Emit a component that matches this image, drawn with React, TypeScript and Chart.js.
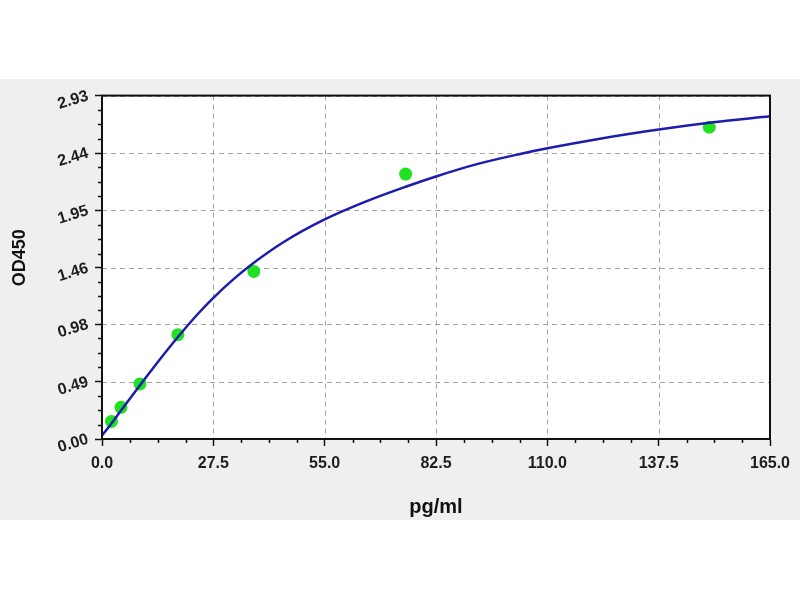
import React, { useEffect, useRef } from "react";
import { Chart, registerables } from "chart.js";

Chart.register(...registerables);

const X_TICKS = [0, 27.5, 55, 82.5, 110, 137.5, 165];
const Y_TICKS = [0, 0.49, 0.98, 1.46, 1.95, 2.44, 2.93];

const STD_CONC = [2.34, 4.69, 9.38, 18.75, 37.5, 75, 150];
const STD_OD = [0.15, 0.27, 0.47, 0.89, 1.43, 2.26, 2.66];

const CURVE_CONC = [0, 2.34, 4.69, 9.38, 13.7, 18.75, 23.5, 27.5, 32.5, 37.5, 44.8, 55, 65.4, 75, 82.5, 92.6, 103, 110, 123, 137.5, 151, 165];
const CURVE_OD = [0.03, 0.133, 0.243, 0.459, 0.653, 0.87, 1.06, 1.204, 1.364, 1.504, 1.679, 1.873, 2.029, 2.152, 2.24, 2.345, 2.43, 2.48, 2.562, 2.64, 2.702, 2.754];

const X_TITLE = "pg/ml";
const Y_TITLE = "OD450";

const FONT = '"Liberation Sans", Arial, sans-serif';

const framePlugin = {
  id: "frame",
  beforeDraw(chart: any) {
    const { ctx, chartArea: a } = chart;
    ctx.save();
    ctx.fillStyle = "#ffffff";
    ctx.fillRect(a.left, a.top, a.right - a.left, a.bottom - a.top);
    ctx.restore();
  },
  beforeDatasetsDraw(chart: any) {
    const { ctx, chartArea: a, scales } = chart;
    ctx.save();
    ctx.strokeStyle = "#a4a4a4";
    ctx.lineWidth = 1;
    ctx.setLineDash([5, 4]);
    ctx.beginPath();
    X_TICKS.forEach((v) => {
      const px = Math.round(scales.x.getPixelForValue(v)) + 0.5;
      ctx.moveTo(px, a.top);
      ctx.lineTo(px, a.bottom);
    });
    Y_TICKS.forEach((v) => {
      const py = Math.round(scales.y.getPixelForValue(v)) + 0.5;
      ctx.moveTo(a.left, py);
      ctx.lineTo(a.right, py);
    });
    ctx.stroke();
    ctx.restore();
  },
  afterDraw(chart: any) {
    const { ctx, chartArea: a, scales } = chart;
    ctx.save();
    ctx.strokeStyle = "#111111";
    ctx.lineWidth = 1.5;
    ctx.beginPath();
    for (let i = 0; i < X_TICKS.length - 1; i++) {
      const step = (X_TICKS[i + 1] - X_TICKS[i]) / 4;
      for (let k = 1; k < 4; k++) {
        const px = Math.round(scales.x.getPixelForValue(X_TICKS[i] + k * step)) + 0.5;
        ctx.moveTo(px, a.bottom);
        ctx.lineTo(px, a.bottom + 4);
      }
    }
    for (let i = 0; i < Y_TICKS.length - 1; i++) {
      const step = (Y_TICKS[i + 1] - Y_TICKS[i]) / 4;
      for (let k = 1; k < 4; k++) {
        const py = Math.round(scales.y.getPixelForValue(Y_TICKS[i] + k * step)) + 0.5;
        ctx.moveTo(a.left - 4, py);
        ctx.lineTo(a.left, py);
      }
    }
    ctx.stroke();
    ctx.lineWidth = 2;
    ctx.strokeRect(a.left, a.top, a.right - a.left, a.bottom - a.top);
    ctx.translate(20, (a.top + a.bottom) / 2 - 9.5);
    ctx.rotate(-Math.PI / 2);
    ctx.font = `bold 18px ${FONT}`;
    ctx.textAlign = "center";
    ctx.textBaseline = "middle";
    ctx.fillStyle = "#111111";
    ctx.fillText(Y_TITLE, 0, 0);
    ctx.restore();
  },
};

export default function App() {
  const ref = useRef<HTMLCanvasElement | null>(null);

  useEffect(() => {
    if (!ref.current) return;
    const curve = CURVE_CONC.map((x, i) => ({ x, y: CURVE_OD[i] }));
    const pts = STD_CONC.map((x, i) => ({ x, y: STD_OD[i] }));
    const chart = new Chart(ref.current, {
      type: "scatter",
      data: {
        datasets: [
          {
            data: curve,
            showLine: true,
            borderColor: "#1c1cae",
            borderWidth: 2.5,
            pointRadius: 0,
            cubicInterpolationMode: "monotone",
            fill: false,
          } as any,
          {
            data: pts,
            pointRadius: 6.5,
            pointBackgroundColor: "#22e022",
            pointBorderWidth: 0,
            pointBorderColor: "#22e022",
            showLine: false,
          } as any,
        ],
      },
      options: {
        animation: false,
        responsive: false,
        maintainAspectRatio: false,
        devicePixelRatio: 1,
        layout: { padding: { top: 13, right: 30, left: 0, bottom: 0 } },
        plugins: { legend: { display: false }, tooltip: { enabled: false } },
        scales: {
          x: {
            type: "linear",
            min: 0,
            max: 165,
            afterBuildTicks: (s: any) => {
              s.ticks = X_TICKS.map((v) => ({ value: v }));
            },
            afterFit: (s: any) => {
              s.height = 81;
            },
            ticks: {
              autoSkip: false,
              maxRotation: 0,
              minRotation: 0,
              padding: 8,
              color: "#1e1e1e",
              font: { family: FONT, size: 16, weight: "bold" },
              callback: (v: any) => Number(v).toFixed(1),
            },
            grid: {
              drawOnChartArea: false,
              drawTicks: true,
              tickLength: 7,
              tickColor: "#111111",
              tickWidth: 1.5,
            },
            border: { display: true, color: "#111111", width: 2 },
            title: {
              display: true,
              text: X_TITLE,
              color: "#111111",
              font: { family: FONT, size: 20, weight: "bold" },
              padding: { top: 0, bottom: 1 },
            },
          },
          y: {
            type: "linear",
            min: 0,
            max: 2.93,
            afterBuildTicks: (s: any) => {
              s.ticks = Y_TICKS.map((v) => ({ value: v }));
            },
            afterFit: (s: any) => {
              s.width = 102;
            },
            ticks: {
              autoSkip: false,
              minRotation: 17,
              maxRotation: 17,
              padding: 7,
              color: "#1e1e1e",
              font: { family: FONT, size: 16, weight: "bold" },
              callback: (v: any) => Number(v).toFixed(2),
            },
            grid: {
              drawOnChartArea: false,
              drawTicks: true,
              tickLength: 7,
              tickColor: "#111111",
              tickWidth: 1.5,
            },
            border: { display: true, color: "#111111", width: 2 },
            title: { display: false },
          },
        },
      },
      plugins: [framePlugin],
    } as any);
    return () => chart.destroy();
  }, []);

  return (
    <div style={{ position: "absolute", left: 0, top: 0, width: 800, height: 600, background: "#ffffff" }}>
      <div style={{ position: "absolute", left: 0, top: 79, width: 800, height: 441, background: "#efefef" }}>
        <canvas ref={ref} width={800} height={441} style={{ display: "block", width: 800, height: 441 }} />
      </div>
    </div>
  );
}
